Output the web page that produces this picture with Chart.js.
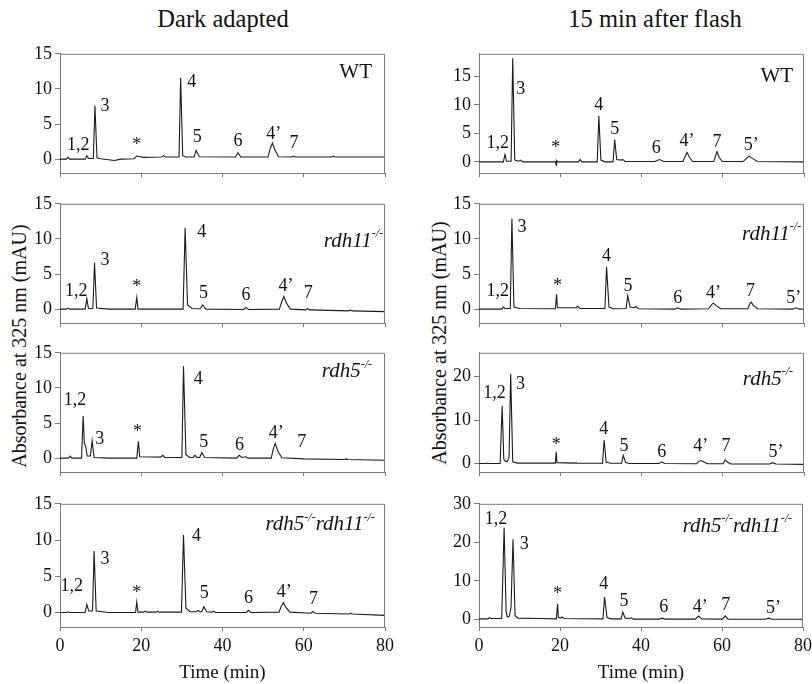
<!DOCTYPE html>
<html lang="en">
  <head>
    <meta charset="UTF-8" />
    <title>HPLC retinoid chromatograms</title>
    <script src="https://cdn.jsdelivr.net/npm/chart.js"></script>
    <style>
      body {
        margin: 0;
        background: #fff;
        font-family: "Liberation Serif", "DejaVu Serif", serif;
        color: #111;
      }

      #figure {
        position: relative;
        width: 812px;
        height: 684px;
        overflow: hidden;
      }

      .panel {
        position: absolute;
      }

      .col-title {
        position: absolute;
        top: 5px;
        font-size: 24.5px;
        white-space: nowrap;
        transform: translateX(-50%);
      }

      .y-title {
        position: absolute;
        font-size: 20px;
        white-space: nowrap;
        transform: translate(-50%, -50%) rotate(-90deg);
      }
    </style>
  </head>
  <body>
    <div id="figure">
      <div class="col-title" style="left: 223px">Dark adapted</div>
      <div class="col-title" style="left: 655px">15 min after flash</div>
      <div class="y-title" style="left: 19px; top: 346px">Absorbance at 325 nm (mAU)</div>
      <div class="y-title" style="left: 439px; top: 343px">Absorbance at 325 nm (mAU)</div>
    </div>

    <script>
      // Axis ticks
      const xTicks = [0, 20, 40, 60, 80];
      const yTicks15 = [0, 5, 10, 15];
      const yTicks25 = [0, 10, 20];
      const yTicks30 = [0, 10, 20, 30];

      // Traces: [time (min), absorbance (mAU)]
      const darkWtTrace = [
        [0, 0], [1.6, 0], [2, 0.3], [2.4, 0], [6.2, 0], [6.6, 0.5], [7, 0.1],
        [8.2, 0.1], [8.6, 7.6], [9.1, 0.2], [10, 0.05], [13.4, -0.2], [15, 0],
        [18.2, 0.05], [18.9, 0.45], [19.8, 0.35], [20.5, 0.25], [25, 0.3],
        [25.5, 0.5], [26, 0.3], [29.3, 0.3], [29.7, 11.6], [30.2, 0.5], [31, 0.3],
        [33, 0.3], [33.5, 1.25], [34.3, 0.35], [43.2, 0.3], [43.8, 0.9], [44.5, 0.3],
        [51.2, 0.3], [51.8, 1.6], [52.3, 2.3], [52.9, 1.3], [53.8, 0.35], [57, 0.3],
        [57.5, 0.4], [58, 0.3], [66.8, 0.3], [67.3, 0.4], [67.8, 0.3], [80, 0.3],
      ];
      const darkRdh11Trace = [
        [0, 0], [1.6, 0], [2, 0.15], [2.4, 0], [6.2, 0], [6.6, 1.5], [7, 0.1],
        [8.1, 0.1], [8.5, 6.6], [9, 0.15], [12, 0], [18.5, 0], [18.9, 1.65],
        [19.2, 0], [30.3, 0], [30.8, 11.6], [31.4, 0.6], [32.5, 0.1], [34.5, 0.05],
        [35.1, 0.6], [35.9, 0], [45.3, -0.05], [45.8, 0.25], [46.4, -0.05], [54, 0],
        [54.6, 1.1], [55.1, 1.8], [55.7, 0.9], [56.7, 0], [60.5, -0.1], [60.9, 0.1],
        [61.4, -0.1], [71, -0.25], [71.4, -0.15], [72, -0.25], [80, -0.35],
      ];
      const darkRdh5Trace = [
        [0, 0], [2.1, 0], [2.5, 0.3], [2.9, 0], [5.3, 0], [5.7, 6], [6, 2],
        [6.3, 1.8], [6.7, 0.3], [7.5, 0.3], [7.9, 2.5], [8.4, 0.1], [12, 0],
        [18.9, 0], [19.3, 2.4], [19.6, 0.2], [24.8, 0.15], [25.3, 0.4], [25.8, 0.1],
        [30, 0.1], [30.4, 13.1], [31, 0.5], [32, 0.1], [32.8, 0.1], [33.2, 0.4],
        [33.7, 0.1], [34.4, 0.1], [34.9, 0.8], [35.6, 0.1], [43.5, 0], [44.1, 0.4],
        [44.8, 0.1], [45.7, 0.2], [46.3, 0], [52, 0], [52.5, 1.3], [53, 2.1],
        [53.6, 1], [54.6, 0.05], [60, -0.1], [70, -0.2], [70.5, -0.1], [71, -0.2],
        [80, -0.3],
      ];
      const darkDkoTrace = [
        [0, 0], [1.6, 0], [2, 0.1], [2.4, 0], [6.2, 0], [6.6, 1.1], [7.1, 0.2],
        [8, 0.2], [8.4, 8.5], [8.9, 0.2], [12, 0], [18.6, 0], [18.9, 1.45],
        [19.2, 0.05], [20.6, 0.05], [21, 0.2], [21.4, 0.05], [23.6, 0.05], [24, 0.2],
        [24.4, 0.05], [29.9, 0.05], [30.4, 10.7], [31, 0.6], [32, 0.1], [33.6, 0.1],
        [34, 0.3], [34.5, 0.1], [34.9, 0.1], [35.4, 0.8], [36.1, 0.1], [37.4, 0.05],
        [37.8, 0.2], [38.3, 0], [45.8, 0], [46.4, 0.3], [47, 0], [53.9, 0.05],
        [54.5, 0.9], [55, 1.35], [55.6, 0.7], [56.6, 0.05], [61.8, -0.1],
        [62.2, 0.15], [62.8, -0.1], [71, -0.2], [71.5, -0.1], [72, -0.2], [80, -0.4],
      ];
      const flashWtTrace = [
        [0, 0], [6, 0], [6.4, 1.3], [6.8, 0.1], [7.9, 0.1], [8.3, 18.2], [8.8, 0.3],
        [9.8, 0.1], [10.3, 0.3], [10.8, 0], [18.8, 0], [19, -0.6], [19.1, 0.25],
        [19.4, 0], [24.5, 0], [24.9, 0.4], [25.3, 0], [29.1, 0], [29.5, 8.05],
        [30, 0.3], [31, 0], [33, 0], [33.4, 3.9], [33.9, 0.4], [35, 0.3], [35.4, 0.4],
        [36, 0.05], [43.3, 0.05], [44.4, 0.4], [45.5, 0.05], [50.2, 0.05],
        [50.7, 0.9], [51.2, 1.65], [51.8, 0.8], [52.6, 0.05], [57.8, 0.05],
        [58.3, 1.2], [58.6, 1.8], [59.1, 0.8], [59.9, 0.05], [65, 0.05], [66, 0.7],
        [66.5, 1], [67.3, 0.6], [68.5, 0.05], [80, 0],
      ];
      const flashRdh11Trace = [
        [0, 0], [5.6, 0], [6, 0.3], [6.4, 0.1], [7.7, 0.1], [8.1, 12.9], [8.6, 0.3],
        [10, 0.1], [18.8, 0.05], [19.1, 2.1], [19.3, 0.2], [22, 0.2], [23.9, 0.2],
        [24.3, 0.4], [24.8, 0.1], [31, 0.1], [31.4, 6], [32, 0.3], [33, 0.05],
        [36.2, 0.1], [36.6, 1.9], [37.2, 0.3], [38.2, 0.2], [38.6, 0.4], [39.2, 0.05],
        [48.2, 0], [48.9, 0.2], [49.6, 0], [56.5, 0.05], [57.2, 0.6], [57.7, 0.85],
        [58.4, 0.5], [59.5, 0.05], [66.2, 0.05], [66.7, 0.8], [67, 1], [67.6, 0.5],
        [68.6, 0.05], [77.2, 0], [78, 0.2], [78.8, 0], [80, 0],
      ];
      const flashRdh5Trace = [
        [0, 0], [1.8, 0], [2.1, 0.1], [2.4, 0], [5.2, 0], [5.7, 13.3], [6.1, 1],
        [6.5, 0.5], [7, 0.5], [7.4, 1.5], [7.8, 20.7], [8.3, 0.4], [9.5, 0.1],
        [18.8, 0.1], [19, 2.7], [19.2, 0.2], [23.6, 0.1], [23.9, 0.2], [24.2, 0.05],
        [30.4, 0.05], [30.8, 5.4], [31.3, 0.3], [32.5, 0.05], [35.1, 0.05],
        [35.5, 1.9], [36.1, 0.2], [37, 0], [44.3, 0], [45, 0.4], [45.7, 0],
        [53.6, -0.05], [54.1, 0.5], [54.6, 0.7], [55.3, 0.4], [56.2, -0.05],
        [60.1, -0.05], [60.6, 0.85], [61.2, 0.3], [62, -0.1], [71.5, -0.1],
        [72.3, 0.2], [73.1, -0.1], [80, -0.2],
      ];
      const flashDkoTrace = [
        [0, 0.1], [2.2, 0.1], [2.6, 0.4], [3, 0.2], [5.6, 0.2], [6.2, 23.75],
        [6.7, 2], [7, 0.6], [7.5, 0.8], [7.9, 3], [8.4, 20.8], [8.9, 1], [9.6, 0.3],
        [15, 0.2], [19.1, 0.1], [19.4, 4], [19.6, 0.5], [20.2, 0.3], [20.5, 0.6],
        [21, 0.2], [30.6, 0.1], [31, 5.8], [31.6, 0.5], [32.5, 0.1], [35.1, 0.1],
        [35.5, 1.9], [36.1, 0.3], [37.2, 0.2], [37.6, 0.4], [38.1, 0.05],
        [44.5, 0.05], [45.2, 0.3], [45.9, 0.05], [53.4, 0.05], [54.2, 0.85],
        [55, 0.1], [60.1, 0.05], [60.8, 0.9], [61.5, 0.05], [70.7, 0], [71.5, 0.3],
        [72.3, 0], [80, 0],
      ];

      // Peak labels: [text, time, absorbance]
      const darkWtPeaks = [
        ["1,2", 4.5, 2.0], ["3", 11.1, 7.6], ["*", 18.9, 2.0], ["4", 32.4, 10.9],
        ["5", 33.8, 3.1], ["6", 43.8, 2.5], ["4’", 52.6, 3.6], ["7", 57.6, 2.3],
      ];
      const darkRdh11Peaks = [
        ["1,2", 4.0, 2.5], ["3", 11.1, 6.9], ["*", 18.9, 3.1], ["4", 34.9, 10.9],
        ["5", 35.3, 2.2], ["6", 45.8, 2.0], ["4’", 55.6, 3.3], ["7", 61.1, 2.2],
      ];
      const darkRdh5Peaks = [
        ["1,2", 3.7, 8.2], ["3", 9.8, 2.7], ["*", 19.1, 3.7], ["4", 34.0, 11.3],
        ["5", 35.4, 2.2], ["6", 44.2, 1.8], ["4’", 53.2, 3.6], ["7", 59.5, 2.2],
      ];
      const darkDkoPeaks = [
        ["1,2", 2.9, 3.6], ["3", 11.1, 7.3], ["*", 18.9, 2.7], ["4", 33.6, 10.5],
        ["5", 35.5, 2.7], ["6", 46.4, 2.0], ["4’", 55.2, 2.8], ["7", 62.4, 1.8],
      ];
      const flashWtPeaks = [
        ["1,2", 4.6, 3.3], ["3", 10.3, 12.8], ["*", 18.9, 2.4], ["4", 29.5, 9.9],
        ["5", 33.4, 5.7], ["6", 43.6, 2.3], ["4’", 51.2, 3.6], ["7", 58.6, 3.5],
        ["5’", 67.0, 2.9],
      ];
      const flashRdh11Peaks = [
        ["1,2", 4.6, 2.5], ["3", 10.6, 11.7], ["*", 19.3, 3.2], ["4", 31.4, 7.5],
        ["5", 36.7, 3.3], ["6", 48.9, 1.6], ["4’", 57.7, 2.3], ["7", 66.8, 2.6],
        ["5’", 77.5, 1.6],
      ];
      const flashRdh5Peaks = [
        ["1,2", 3.8, 16.2], ["3", 10.2, 18.3], ["*", 19.0, 4.2], ["4", 30.7, 7.9],
        ["5", 35.7, 4.0], ["6", 45.0, 2.7], ["4’", 54.6, 4.0], ["7", 60.8, 4.0],
        ["5’", 73.1, 2.5],
      ];
      const flashDkoPeaks = [
        ["1,2", 4.2, 26], ["3", 11.2, 19.4], ["*", 19.4, 6.5], ["4", 30.8, 9.0],
        ["5", 35.8, 4.8], ["6", 45.6, 3.2], ["4’", 54.6, 3.2], ["7", 60.9, 3.6],
        ["5’", 72.7, 2.75],
      ];

      // Genotype names: [text, superscript?]
      const wtName = [["WT", false]];
      const rdh11Name = [["rdh11", false], ["-/-", true]];
      const rdh5Name = [["rdh5", false], ["-/-", true]];
      const dkoName = [["rdh5", false], ["-/-", true], ["rdh11", false], ["-/-", true]];

      const panels = [
        { col: 0, row: 0, trace: darkWtTrace, peaks: darkWtPeaks, name: wtName, italic: false, nameAt: [76.8, 12.3], yMax: 15, yTicks: yTicks15 },
        { col: 0, row: 1, trace: darkRdh11Trace, peaks: darkRdh11Peaks, name: rdh11Name, italic: true, nameAt: [79.5, 9.7], yMax: 15, yTicks: yTicks15 },
        { col: 0, row: 2, trace: darkRdh5Trace, peaks: darkRdh5Peaks, name: rdh5Name, italic: true, nameAt: [76.8, 12.3], yMax: 15, yTicks: yTicks15 },
        { col: 0, row: 3, trace: darkDkoTrace, peaks: darkDkoPeaks, name: dkoName, italic: true, nameAt: [77.5, 12.1], yMax: 15, yTicks: yTicks15 },
        { col: 1, row: 0, trace: flashWtTrace, peaks: flashWtPeaks, name: wtName, italic: false, nameAt: [77.3, 15.0], yMax: 19, yTicks: yTicks15 },
        { col: 1, row: 1, trace: flashRdh11Trace, peaks: flashRdh11Peaks, name: rdh11Name, italic: true, nameAt: [79.3, 10.7], yMax: 15, yTicks: yTicks15 },
        { col: 1, row: 2, trace: flashRdh5Trace, peaks: flashRdh5Peaks, name: rdh5Name, italic: true, nameAt: [77.3, 19.4], yMax: 25.5, yTicks: yTicks25 },
        { col: 1, row: 3, trace: flashDkoTrace, peaks: flashDkoPeaks, name: dkoName, italic: true, nameAt: [77.3, 24.2], yMax: 30, yTicks: yTicks30 },
      ];

      // Layout of the panel grid (right column runs past the page edge, like the original)
      const colLeft = [0, 406];
      const colWidth = [400, 410];
      const yAxisWidth = [60, 73];
      const padRight = [15, 12];
      const rowTop = [50, 200, 349, 500];
      const plotHeight = 127;
      const axisGrey = "#7a7a7a";
      const serif = "'Liberation Serif', 'DejaVu Serif', serif";

      Chart.defaults.font.family = serif;
      Chart.defaults.color = "#111";

      // Draws the box, peak numbers and genotype name of one panel
      function decorFor(p) {
        return {
          id: "decor",
          afterDraw(chart) {
            const { ctx, chartArea: a } = chart;
            const x = chart.scales.x;
            const y = chart.scales.y;
            ctx.save();

            // top and right sides of the frame
            ctx.strokeStyle = axisGrey;
            ctx.lineWidth = 1;
            ctx.beginPath();
            ctx.moveTo(a.left, a.top + 0.5);
            ctx.lineTo(a.right - 0.5, a.top + 0.5);
            ctx.lineTo(a.right - 0.5, a.bottom);
            ctx.stroke();

            // peak labels
            ctx.fillStyle = "#111";
            ctx.font = "18px " + serif;
            ctx.textAlign = "center";
            ctx.textBaseline = "middle";
            p.peaks.forEach(([text, t, v]) => {
              ctx.fillText(text, x.getPixelForValue(t), y.getPixelForValue(v));
            });

            // genotype name, right aligned
            const style = p.italic ? "italic " : "";
            const baseFont = style + "21px " + serif;
            const supFont = style + "12px " + serif;
            let total = 0;
            p.name.forEach(([text, sup]) => {
              ctx.font = sup ? supFont : baseFont;
              total += ctx.measureText(text).width;
            });
            let px = x.getPixelForValue(p.nameAt[0]) - total;
            const py = y.getPixelForValue(p.nameAt[1]);
            ctx.textAlign = "left";
            p.name.forEach(([text, sup]) => {
              ctx.font = sup ? supFont : baseFont;
              ctx.fillText(text, px, sup ? py - 7 : py);
              px += ctx.measureText(text).width;
            });
            ctx.restore();
          },
        };
      }

      function makePanel(p) {
        const bottomRow = p.row === 3;
        const xHeight = bottomRow ? 57 : 10;
        const canvas = document.createElement("canvas");
        canvas.className = "panel";
        canvas.width = colWidth[p.col];
        canvas.height = 10 + plotHeight + xHeight;
        canvas.style.left = colLeft[p.col] + "px";
        canvas.style.top = rowTop[p.row] - 10 + "px";
        document.getElementById("figure").appendChild(canvas);

        new Chart(canvas, {
          type: "line",
          data: {
            datasets: [
              {
                data: p.trace.map(([t, v]) => ({ x: t, y: v })),
                borderColor: "#1b1b1b",
                borderWidth: 1.1,
                pointRadius: 0,
                tension: 0,
                fill: false,
              },
            ],
          },
          options: {
            responsive: false,
            animation: false,
            events: [],
            layout: {
              padding: { top: 10, right: padRight[p.col], left: 0, bottom: 0 },
            },
            plugins: {
              legend: { display: false },
              tooltip: { enabled: false },
            },
            scales: {
              x: {
                type: "linear",
                min: 0,
                max: 80,
                afterBuildTicks: (s) => {
                  s.ticks = xTicks.map((v) => ({ value: v }));
                },
                afterFit: (s) => {
                  s.height = xHeight;
                },
                border: { color: axisGrey },
                grid: {
                  drawOnChartArea: false,
                  tickLength: 4,
                  color: axisGrey,
                },
                ticks: {
                  display: bottomRow,
                  padding: 4,
                  maxRotation: 0,
                  font: { size: 18 },
                },
                title: {
                  display: bottomRow,
                  text: "Time (min)",
                  padding: 0,
                  font: { size: 19 },
                },
              },
              y: {
                min: -2,
                max: p.yMax,
                afterBuildTicks: (s) => {
                  s.ticks = p.yTicks.map((v) => ({ value: v }));
                },
                afterFit: (s) => {
                  s.width = yAxisWidth[p.col];
                },
                border: { color: axisGrey },
                grid: {
                  drawOnChartArea: false,
                  tickLength: 5,
                  color: axisGrey,
                },
                ticks: {
                  padding: 3,
                  font: { size: 18 },
                },
              },
            },
          },
          plugins: [decorFor(p)],
        });
      }

      panels.forEach(makePanel);
    </script>
  </body>
</html>
